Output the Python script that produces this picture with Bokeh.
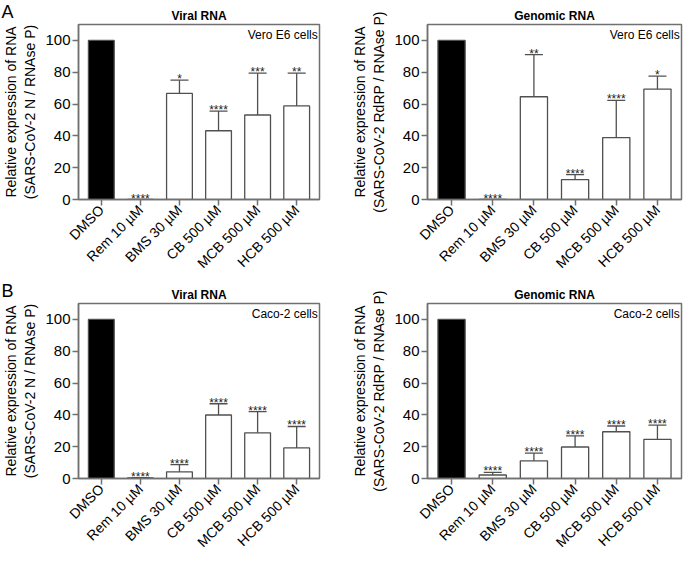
import math
from bokeh.plotting import figure
from bokeh.models import ColumnDataSource, FactorRange, Whisker, TeeHead, Label, Range1d
from bokeh.layouts import gridplot
from bokeh.embed import file_html
from bokeh.resources import INLINE
from bokeh.core.properties import value

# ---------------- data ----------------
categories = ["DMSO", "Rem 10 µM", "BMS 30 µM", "CB 500 µM", "MCB 500 µM", "HCB 500 µM"]
y_ticks = [0, 20, 40, 60, 80, 100]

vero_viral_mean = [100, 0, 66.7, 43.2, 53.1, 58.8]
vero_viral_sd = [0, 0, 8.3, 12.4, 26.3, 20.6]
vero_viral_sig = ["", "****", "*", "****", "***", "**"]

vero_genomic_mean = [100, 0, 64.6, 12.5, 38.9, 69.4]
vero_genomic_sd = [0, 0, 26.5, 3.1, 23.4, 8.1]
vero_genomic_sig = ["", "****", "**", "****", "****", "*"]

caco_viral_mean = [100, 0.3, 4.2, 39.9, 28.7, 19.2]
caco_viral_sd = [0, 0.3, 4.5, 7.1, 13.3, 13.5]
caco_viral_sig = ["", "****", "****", "****", "****", "****"]

caco_genomic_mean = [100, 2.2, 11.1, 19.8, 29.4, 24.6]
caco_genomic_sd = [0, 1.6, 4.9, 7.0, 3.6, 8.9]
caco_genomic_sig = ["", "****", "****", "****", "****", "****"]

bar_fill = ["black", "white", "white", "white", "white", "white"]

FONT = "Liberation Sans"
AXIS_COLOR = "#707070"
BAR_LINE = "#505050"


def make_panel(means, sds, sigs, title, ylabel, cells, letter,
               width, height, bl, br, bt, bb):
    p = figure(x_range=FactorRange(*categories, range_padding=0.028),
               y_range=Range1d(0, 110),
               width=width, height=height,
               output_backend="svg", toolbar_location=None,
               min_border_left=bl, min_border_right=br,
               min_border_top=bt, min_border_bottom=bb)
    p.background_fill_color = "white"
    p.border_fill_color = "white"
    p.outline_line_color = AXIS_COLOR
    p.outline_line_width = 1.5
    p.grid.grid_line_color = None

    p.title.text = title
    p.title.align = "center"
    p.title.text_font = FONT
    p.title.text_font_size = "12px"
    p.title.text_font_style = "bold"
    p.title.text_color = "black"
    p.title.standoff = 4

    src = ColumnDataSource(dict(x=categories, top=means, fill=bar_fill))
    p.vbar(x="x", top="top", width=0.66, source=src, fill_color="fill",
           line_color=BAR_LINE, line_width=1.3)

    ex = [c for c, s in zip(categories, sds) if s > 0]
    elo = [m for m, s in zip(means, sds) if s > 0]
    ehi = [m + s for m, s in zip(means, sds) if s > 0]
    esrc = ColumnDataSource(dict(x=ex, lower=elo, upper=ehi))
    w = Whisker(base="x", lower="lower", upper="upper", source=esrc,
                dimension="height", line_color=BAR_LINE, line_width=1.3,
                upper_head=TeeHead(size=18, line_color=BAR_LINE, line_width=1.3),
                lower_head=None, level="glyph")
    p.add_layout(w)

    tx = [c for c, t in zip(categories, sigs) if t]
    ty = [m + s for m, s, t in zip(means, sds, sigs) if t]
    tt = [t for t in sigs if t]
    tsrc = ColumnDataSource(dict(x=tx, y=ty, t=tt))
    p.text(x="x", y="y", text="t", source=tsrc, text_font=value(FONT),
           text_font_size="12px", text_align="center",
           text_baseline="alphabetic", y_offset=-1, text_color="#222222")

    p.add_layout(Label(x=6.04, y=107.5, text=cells, text_align="right",
                       text_baseline="top", text_font=FONT,
                       text_font_size="12px", text_color="black"))

    if letter:
        # placed in the (empty) right side panel so it is not clipped to the frame
        p.add_layout(Label(x=1, y=1, x_units="canvas", y_units="canvas",
                           text=letter, text_align="left",
                           text_baseline="top", text_font=FONT,
                           text_font_size="18px", text_color="black"), "right")

    p.yaxis.ticker = y_ticks
    p.yaxis.axis_label = ylabel
    p.yaxis.axis_label_text_font = FONT
    p.yaxis.axis_label_text_font_size = "14px"
    p.yaxis.axis_label_text_font_style = "normal"
    p.yaxis.axis_label_text_color = "black"
    p.yaxis.axis_label_standoff = 4
    p.axis.axis_line_color = AXIS_COLOR
    p.axis.axis_line_width = 1.5
    p.axis.major_tick_line_color = AXIS_COLOR
    p.axis.major_tick_line_width = 1.5
    p.axis.major_tick_out = 6
    p.axis.major_tick_in = 0
    p.axis.minor_tick_line_color = None
    p.axis.major_label_text_font = FONT
    p.axis.major_label_text_color = "black"
    p.yaxis.major_label_text_font_size = "15px"
    p.yaxis.major_label_standoff = 2
    p.xaxis.major_label_text_font_size = "14px"
    p.xaxis.major_label_orientation = math.pi / 4
    p.xaxis.major_label_standoff = 2
    return p


YL_N = "Relative expression of RNA\n(SARS-CoV-2 N / RNAse P)"
YL_R = "Relative expression of RNA\n(SARS-CoV-2 RdRP / RNAse P)"

p1 = make_panel(vero_viral_mean, vero_viral_sd, vero_viral_sig, "Viral RNA", YL_N,
                "Vero E6 cells", "A", 347, 279, 64, 28, 24, 70)
p2 = make_panel(vero_genomic_mean, vero_genomic_sd, vero_genomic_sig, "Genomic RNA", YL_R,
                "Vero E6 cells", "", 337, 279, 80, 3, 24, 70)
p3 = make_panel(caco_viral_mean, caco_viral_sd, caco_viral_sig, "Viral RNA", YL_N,
                "Caco-2 cells", "B", 347, 279, 64, 28, 24, 70)
p4 = make_panel(caco_genomic_mean, caco_genomic_sd, caco_genomic_sig, "Genomic RNA", YL_R,
                "Caco-2 cells", "", 337, 279, 80, 3, 24, 70)

grid = gridplot([[p1, p2], [p3, p4]], toolbar_location=None)

open("out.html", "w").write(file_html(grid, INLINE))
